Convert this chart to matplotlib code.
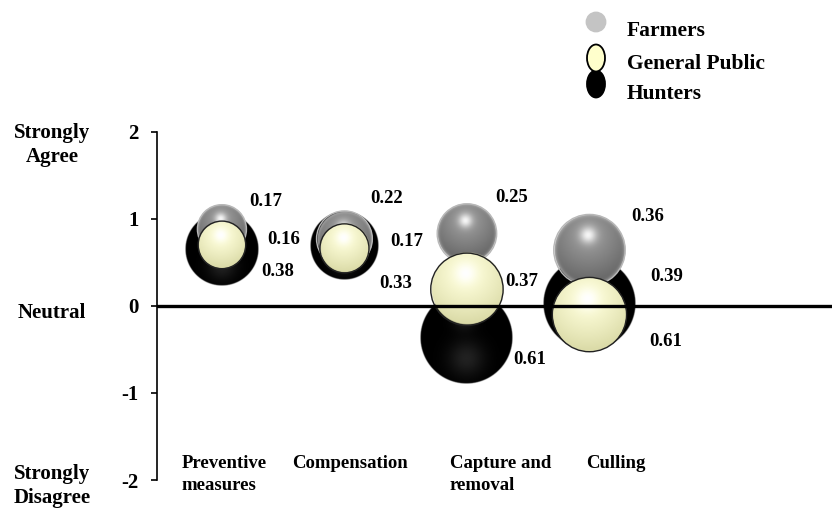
import numpy as np
import matplotlib
matplotlib.use('Agg')
import matplotlib.pyplot as plt
from matplotlib.patches import Ellipse

plt.rcParams['font.family'] = ['Liberation Serif', 'DejaVu Serif']
plt.rcParams['font.weight'] = 'bold'

# survey data: mean attitude (-2..2) and bubble size per management option
categories = ['Preventive\nmeasures', 'Compensation', 'Capture and\nremoval', 'Culling']
groups = ['Farmers', 'General Public', 'Hunters']

farmers_mean = [0.88, 0.77, 0.83, 0.64]
public_mean = [0.70, 0.66, 0.19, -0.10]
hunters_mean = [0.65, 0.69, -0.36, 0.03]

farmers_size = [0.17, 0.22, 0.25, 0.36]
public_size = [0.16, 0.17, 0.37, 0.39]
hunters_size = [0.38, 0.33, 0.61, 0.61]

y_ticks = [-2, -1, 0, 1, 2]
scale_labels = ['Strongly\nAgree', 'Neutral', 'Strongly\nDisagree']

W, H, DPI = 832, 509, 100
AX_LEFT, AX_BOTTOM, AX_H = 157, 29, 348.3
XMIN, XMAX = -0.53, 4.98
BUBBLE_K = 59.5   # bubble radius in pixels = K * sqrt(size)

# label offsets (pixels) for the size numbers, per group and category
label_offsets = {
    'Farmers': [(44, 28), (42, 40), (45, 36), (58, 34)],
    'General Public': [(62, 5), (62, 7), (55, 8), (77, 38)],
    'Hunters': [(56, -22), (51, -38), (63, -22), (76, -38)],
}


def sphere_image(style, n):
    """RGBA image of a shaded sphere on an n x n grid."""
    t = np.linspace(-1, 1, n)
    x, y = np.meshgrid(t, t)
    rr = np.sqrt(x ** 2 + y ** 2)
    d = np.sqrt((x + 0.05) ** 2 + (y - 0.42) ** 2)
    img = np.zeros((n, n, 4))
    if style == 'gray':
        light, dark = np.array([0.64, 0.64, 0.64]), np.array([0.40, 0.40, 0.40])
        k = np.clip(d / 1.35, 0, 1)[..., None]
        col = light * (1 - k) + dark * k
        rim = np.exp(-((1 - rr) / 0.07) ** 2)[..., None] * 0.5
        col = col * (1 - rim) + np.array([0.80, 0.80, 0.80]) * rim
        spec = np.exp(-(d / 0.22) ** 2)[..., None] * 0.9
        col = col * (1 - spec) + spec
    elif style == 'yellow':
        light, dark = np.array([1.0, 1.0, 0.86]), np.array([0.86, 0.86, 0.66])
        k = np.clip(d / 1.35, 0, 1)[..., None] ** 1.3
        col = light * (1 - k) + dark * k
        spec = np.exp(-(d / 0.28) ** 2)[..., None]
        col = col * (1 - spec) + spec
    else:
        glow = np.exp(-(x ** 2 + (y + 0.45) ** 2) / 0.15) * 0.13
        top = np.exp(-(d / 0.25) ** 2) * 0.12
        v = glow + top
        col = np.stack([v, v, v], axis=-1)
    img[..., :3] = np.clip(col, 0, 1)
    img[..., 3] = np.clip((1 - rr) * n / 2.5, 0, 1)
    return img


fig = plt.figure(figsize=(W / DPI, H / DPI), dpi=DPI)
ax = fig.add_axes([AX_LEFT / W, AX_BOTTOM / H, (W - AX_LEFT) / W, AX_H / H])
ax.set_xlim(XMIN, XMAX)
ax.set_ylim(-2, 2)

px_x = (W - AX_LEFT) / (XMAX - XMIN)
px_y = AX_H / 4.0

series = [
    ('Hunters', hunters_mean, hunters_size, 'black', None),
    ('Farmers', farmers_mean, farmers_size, 'gray', '#b8b8b8'),
    ('General Public', public_mean, public_size, 'yellow', '#222222'),
]

for z, (name, means, sizes, style, edge) in enumerate(series):
    for i, (m, s) in enumerate(zip(means, sizes)):
        r = BUBBLE_K * np.sqrt(s)
        rx, ry = r / px_x, r / px_y
        ax.imshow(sphere_image(style, int(4 * r)),
                  extent=(i - rx, i + rx, m - ry, m + ry), origin='lower',
                  aspect='auto', interpolation='bilinear', zorder=2 + z)
        if edge:
            ax.add_patch(Ellipse((i, m), 2 * rx, 2 * ry, fill=False,
                                 edgecolor=edge, lw=1.0, zorder=2.5 + z))
        dx, dy = label_offsets[name][i]
        ax.annotate(f'{s:.2f}', xy=(i, m), xytext=(dx, dy),
                    textcoords='offset pixels', ha='center', va='center',
                    fontsize=13.5, fontweight='bold', zorder=10)

ax.axhline(0, color='black', lw=2.4, zorder=8)
ax.set_xlim(XMIN, XMAX)
ax.set_ylim(-2, 2)

for side in ['top', 'right', 'bottom']:
    ax.spines[side].set_visible(False)
ax.spines['left'].set_linewidth(1.2)
ax.set_xticks([])
ax.set_yticks(y_ticks)
ax.set_yticklabels([str(t) for t in y_ticks], fontsize=15, fontweight='bold')
ax.tick_params(axis='y', direction='out', length=4, width=1.2, pad=9)

# category names under the bubbles
cat_shift = [-0.33, -0.43, -0.14, -0.03]
for i, (c, sh) in enumerate(zip(categories, cat_shift)):
    ax.text(i + sh, -1.715, c, ha='left', va='top', fontsize=13.5,
            fontweight='bold', linespacing=1.4, clip_on=False)

# overlay in pixel units for scale names and legend
ov = fig.add_axes([0, 0, 1, 1], facecolor='none')
ov.set_xlim(0, W)
ov.set_ylim(H, 0)
ov.axis('off')

for lab, yy in zip(scale_labels, [145, 313, 486]):
    ov.text(52, yy, lab, ha='center', va='center', fontsize=15,
            fontweight='bold', linespacing=1.3)

legend_marks = [
    ('Farmers', 22, 19, 19, '#c4c4c4', '#c4c4c4'),
    ('Hunters', 84, 18, 27, 'black', 'black'),
    ('General Public', 58, 18, 27, '#ffffcc', 'black'),
]
legend_text_y = {'Farmers': 31, 'General Public': 64, 'Hunters': 94}
for name, yy, w, h, fc, ec in legend_marks:
    ov.add_patch(Ellipse((596, yy), w, h, facecolor=fc, edgecolor=ec, lw=1.3))
for name in groups:
    ov.text(627, legend_text_y[name], name, ha='left', va='center',
            fontsize=15.5, fontweight='bold')

fig.savefig('out.png', dpi=DPI)
